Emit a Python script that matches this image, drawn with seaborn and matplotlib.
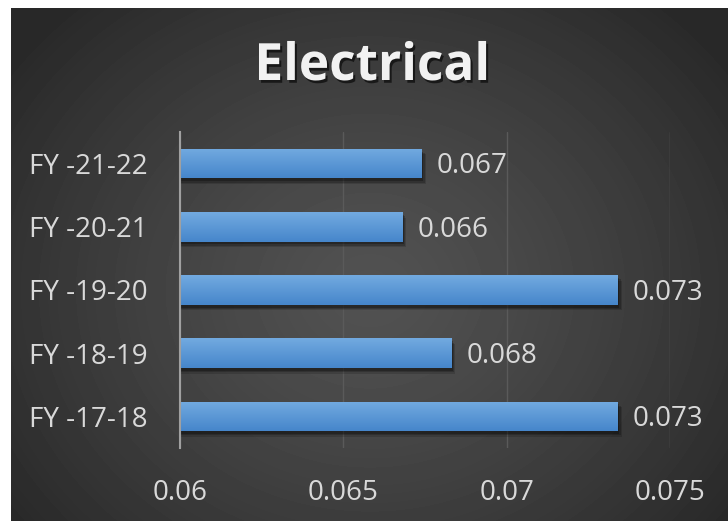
import matplotlib

matplotlib.use("Agg")

import matplotlib.pyplot as plt
import matplotlib.patheffects as pe
import numpy as np
import pandas as pd
import seaborn as sns

# values (top to bottom)
categories = ["FY -21-22", "FY -20-21", "FY -19-20", "FY -18-19", "FY -17-18"]
values = [0.0674, 0.0668, 0.0734, 0.0683, 0.0734]
bar_labels = ["0.067", "0.066", "0.073", "0.068", "0.073"]
x_ticks = [0.06, 0.065, 0.07, 0.075]
x_tick_labels = ["0.06", "0.065", "0.07", "0.075"]
title = "Electrical"

TEXT_COLOR = "#d9d9d9"


def draw_background(fig):
    """Dark radial gradient behind the whole chart (white strip on top / left)."""
    bg = fig.add_axes([11 / 728, 0, 717 / 728, 513 / 521], zorder=-10)
    h, w = 513, 717
    yy, xx = np.mgrid[0:h, 0:w]
    cx, cy = w * 0.5, h * 0.55
    r = np.sqrt(((xx - cx) / (w * 0.62)) ** 2 + ((yy - cy) / (h * 0.75)) ** 2)
    r = np.clip(r, 0, 1)
    shade = 0.32 - (0.32 - 0.16) * r ** 1.3
    bg.imshow(shade, cmap="gray", vmin=0, vmax=1, aspect="auto", interpolation="bilinear")
    bg.set_axis_off()


def shade_bars(ax, xmin):
    """Paint a light-to-dark vertical blue gradient inside each bar."""
    grad = np.linspace(0, 1, 64)[:, None]
    top = np.array([0x72, 0xaa, 0xe0]) / 255
    bottom = np.array([0x46, 0x86, 0xcb]) / 255
    rgb = top[None, None, :] * (1 - grad[..., None]) + bottom[None, None, :] * grad[..., None]
    for bar in ax.patches:
        x0, y0 = bar.get_x(), bar.get_y()
        w, h = bar.get_width(), bar.get_height()
        im = ax.imshow(rgb, extent=(max(x0, xmin), x0 + w, y0 + h, y0), origin="upper",
                       aspect="auto", zorder=bar.get_zorder() + 0.1, interpolation="bilinear")
        im.set_clip_path(bar)


sns.set_theme(style="dark")
plt.rcParams["font.family"] = ["Open Sans", "DejaVu Sans"]

df = pd.DataFrame({"period": categories, "value": values})

fig = plt.figure(figsize=(7.28, 5.21), dpi=100)
fig.patch.set_facecolor("white")
draw_background(fig)

ax = fig.add_axes([180 / 728, 1 - 448 / 521, 490 / 728, 316 / 521])
ax.set_facecolor("none")

sns.barplot(data=df, x="value", y="period", orient="h", color="#5b9bd5", width=0.47,
            saturation=1, linewidth=0, edgecolor="none", ax=ax, zorder=3)
# soft drop shadow: a few stacked, faint offsets
for bar in ax.patches:
    bar.set_path_effects([pe.SimplePatchShadow(offset=(3, -4), shadow_rgbFace="black", alpha=0.15),
                          pe.SimplePatchShadow(offset=(2, -3), shadow_rgbFace="black", alpha=0.2),
                          pe.SimplePatchShadow(offset=(1, -2), shadow_rgbFace="black", alpha=0.25),
                          pe.Normal()])
shade_bars(ax, x_ticks[0])

labels = ax.bar_label(ax.containers[0], labels=bar_labels, padding=11, color=TEXT_COLOR, fontsize=20)
for t in labels:
    t.set_va("center")
    t.set_y(-2)

ax.set_xlim(x_ticks[0], x_ticks[-1])
ax.set_ylim(len(categories) - 0.5, -0.5)
ax.set_xticks(x_ticks)
ax.set_xticklabels(x_tick_labels)
ax.set_xlabel("")
ax.set_ylabel("")
ax.tick_params(axis="x", length=0, pad=22, labelsize=20, labelcolor=TEXT_COLOR)
ax.tick_params(axis="y", length=0, pad=23, labelsize=20, labelcolor=TEXT_COLOR)

ax.grid(axis="x", color="#5a5a5a", linewidth=1)
ax.grid(axis="y", visible=False)
for side in ["top", "right", "bottom"]:
    ax.spines[side].set_visible(False)
ax.spines["left"].set_color("#a0a0a0")
ax.spines["left"].set_linewidth(1.5)
ax.spines["left"].set_zorder(5)

fig.text(372 / 728, 1 - 67 / 521, title, ha="center", va="center", color="#f2f2f2",
         fontsize=37, fontweight="bold",
         path_effects=[pe.withSimplePatchShadow(offset=(1.5, -2), shadow_rgbFace="black", alpha=0.6)])

plt.savefig("out.png", dpi=100)
